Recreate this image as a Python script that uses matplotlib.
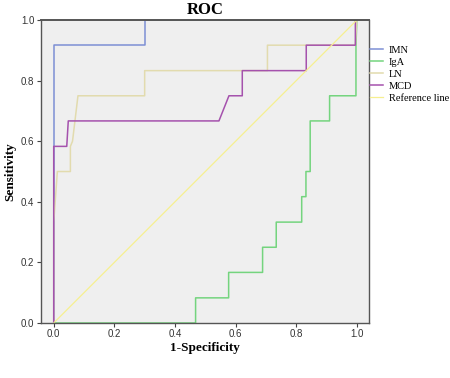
import matplotlib
matplotlib.use("Agg")
import matplotlib.pyplot as plt

# ROC curves (1-specificity, sensitivity), 12 positive cases each
imn_x = [0.0, 0.0, 0.3, 0.3, 1.0]
imn_y = [0.0, 0.917, 0.917, 1.0, 1.0]

iga_x = [0.0, 0.468, 0.468, 0.577, 0.577, 0.689, 0.689, 0.734, 0.734,
         0.818, 0.818, 0.832, 0.832, 0.846, 0.846, 0.91, 0.91, 0.997, 0.997, 1.0]
iga_y = [0.0, 0.0, 0.083, 0.083, 0.167, 0.167, 0.25, 0.25, 0.333,
         0.333, 0.417, 0.417, 0.5, 0.5, 0.667, 0.667, 0.75, 0.75, 0.917, 1.0]

ln_x = [0.0, 0.0, 0.012, 0.055, 0.055, 0.062, 0.08, 0.3, 0.3, 0.705, 0.705, 0.995, 1.0]
ln_y = [0.0, 0.333, 0.5, 0.5, 0.583, 0.6, 0.75, 0.75, 0.833, 0.833, 0.917, 0.917, 1.0]

mcd_x = [0.0, 0.0, 0.043, 0.048, 0.545, 0.578, 0.622, 0.622, 0.833, 0.833, 0.995, 0.995, 1.0]
mcd_y = [0.0, 0.583, 0.583, 0.667, 0.667, 0.75, 0.75, 0.833, 0.833, 0.917, 0.917, 1.0, 1.0]

ref_x = [0.0, 1.0]
ref_y = [0.0, 1.0]

ticks = [0.0, 0.2, 0.4, 0.6, 0.8, 1.0]
tick_labels = ["0.0", "0.2", "0.4", "0.6", "0.8", "1.0"]

serif = "Liberation Serif"
sans = "Liberation Sans"

fig = plt.figure(figsize=(4.5, 3.78), dpi=100)
ax = fig.add_axes([0.0904, 0.1455, 0.7296, 0.8015])
ax.set_facecolor("#efefef")

ax.plot(imn_x, imn_y, color="#7d8fd4", lw=1.1, label="IMN")
ax.plot(iga_x, iga_y, color="#74d47e", lw=1.1, label="IgA")
ax.plot(ln_x, ln_y, color="#e2dbae", lw=1.1, label="LN")
ax.plot(mcd_x, mcd_y, color="#a552ad", lw=1.1, label="MCD")
ax.plot(ref_x, ref_y, color="#f6ef90", lw=0.9, label="Reference line")

ax.set_xlim(-0.043, 1.04)
ax.set_ylim(0, 1)
ax.set_xticks(ticks)
ax.set_xticklabels(tick_labels, fontfamily=sans, fontsize=7, color="#333333")
ax.set_yticks(ticks)
ax.set_yticklabels(tick_labels, fontfamily=sans, fontsize=7, color="#333333")
ax.tick_params(direction="out", length=3, width=0.8, color="#444444", pad=1.5)

for s in ax.spines.values():
    s.set_color("#555555")
    s.set_linewidth(1.0)
ax.spines["top"].set_linewidth(1.4)

ax.set_title("ROC", fontfamily=serif, fontsize=12, fontweight="bold", pad=4)
ax.set_xlabel("1-Specificity", fontfamily=serif, fontsize=9.5, fontweight="bold", labelpad=2)
ax.set_ylabel("Sensitivity", fontfamily=serif, fontsize=9.5, fontweight="bold", labelpad=3)

fig.legend(loc="upper left", bbox_to_anchor=(0.822, 0.879), frameon=False,
           prop={"family": serif, "size": 7.5}, handlelength=1.3,
           handletextpad=0.5, labelspacing=0.25, borderaxespad=0, borderpad=0)

fig.savefig("out.png", dpi=100)
